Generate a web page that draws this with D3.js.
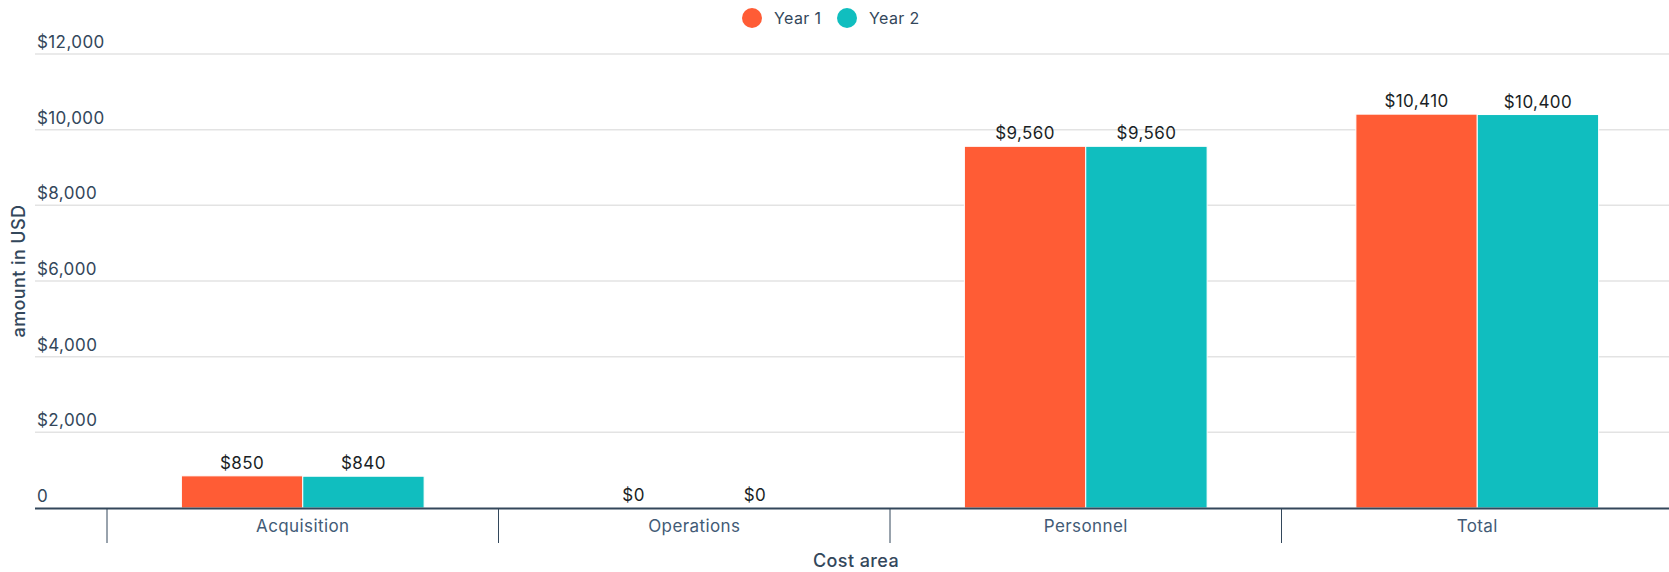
<!DOCTYPE html>
<html>
<head>
<meta charset="utf-8">
<script src="https://cdn.jsdelivr.net/npm/d3@7"></script>
<style>
  html, body { margin: 0; padding: 0; background: #fff; }
  svg { display: block; font-family: Inter, "Noto Sans", sans-serif; letter-spacing: 0.4px; }
</style>
</head>
<body>
<svg id="chart" width="1669" height="572"></svg>
<script>
// Cost areas and yearly amounts (USD)
const categories = ["Acquisition", "Operations", "Personnel", "Total"];
const seriesNames = ["Year 1", "Year 2"];
const year1 = [850, 0, 9560, 10410];
const year2 = [840, 0, 9560, 10400];
const yTicks = [0, 2000, 4000, 6000, 8000, 10000, 12000];
const colors = ["#ff5c35", "#10bebf"];

const svg = d3.select("#chart");

const plotLeft = 35, plotRight = 1669, plotTop = 54, plotBottom = 508;

const x = d3.scaleBand().domain(categories).range([107, 1673]).paddingInner(0).paddingOuter(0);
const groupPad = 0.19;
const x1 = d3.scaleBand().domain(seriesNames)
  .range([x.bandwidth() * groupPad, x.bandwidth() * (1 - groupPad)]);
const y = d3.scaleLinear().domain([0, 12000]).range([plotBottom, plotTop]);

const fmtMoney = d => "$" + d3.format(",")(d);

// Horizontal gridlines
svg.append("g").selectAll("line").data(yTicks.filter(d => d > 0)).join("line")
  .attr("x1", plotLeft).attr("x2", plotRight)
  .attr("y1", d => y(d)).attr("y2", d => y(d))
  .attr("stroke", "#e3e3e3").attr("stroke-width", 1.5);

// Y tick labels, sitting above each gridline
svg.append("g").selectAll("text").data(yTicks).join("text")
  .attr("x", 37).attr("y", d => y(d) - 6)
  .attr("font-size", 17).attr("fill", "#33475b")
  .text(d => d === 0 ? "0" : fmtMoney(d));

// Bars
const rows = categories.map((c, i) => ({ cat: c, values: [year1[i], year2[i]] }));
const groups = svg.append("g").selectAll("g").data(rows).join("g")
  .attr("transform", d => `translate(${x(d.cat)},0)`);

groups.selectAll("rect").data(d => d.values.map((v, j) => ({ v, s: seriesNames[j], j })))
  .join("rect")
  .attr("x", d => x1(d.s))
  .attr("width", x1.bandwidth())
  .attr("y", d => y(d.v))
  .attr("height", d => y(0) - y(d.v))
  .attr("fill", d => colors[d.j])
  .attr("stroke", "#fff").attr("stroke-width", 1);

// Value labels above bars
groups.selectAll("text").data(d => d.values.map((v, j) => ({ v, s: seriesNames[j] })))
  .join("text")
  .attr("x", d => x1(d.s) + x1.bandwidth() / 2)
  .attr("y", d => y(d.v) - 7)
  .attr("text-anchor", "middle")
  .attr("font-size", 17).attr("fill", "#1a1f26")
  .text(d => fmtMoney(d.v));

// X axis line and category ticks
svg.append("line")
  .attr("x1", plotLeft).attr("x2", plotRight)
  .attr("y1", y(0) + 0.5).attr("y2", y(0) + 0.5)
  .attr("stroke", "#33475b").attr("stroke-width", 2);

const tickPos = categories.map(c => x(c)).concat([x(categories[categories.length - 1]) + x.bandwidth()]);
svg.append("g").selectAll("line").data(tickPos).join("line")
  .attr("x1", d => d).attr("x2", d => d)
  .attr("y1", y(0)).attr("y2", y(0) + 35)
  .attr("stroke", "#33475b").attr("stroke-width", 1);

svg.append("g").selectAll("text").data(categories).join("text")
  .attr("x", d => x(d) + x.bandwidth() / 2)
  .attr("y", y(0) + 24)
  .attr("text-anchor", "middle")
  .attr("font-size", 17).attr("fill", "#425b76")
  .text(d => d);

// Axis titles
svg.append("text")
  .attr("x", (plotLeft + plotRight) / 2 + 4).attr("y", 567)
  .attr("text-anchor", "middle")
  .attr("font-size", 18).attr("font-weight", 500).attr("fill", "#33475b")
  .text("Cost area");

svg.append("text")
  .attr("transform", `translate(25,${(plotTop + plotBottom) / 2 - 10}) rotate(-90)`)
  .attr("text-anchor", "middle")
  .attr("font-size", 18).attr("font-weight", 500).attr("fill", "#33475b")
  .text("amount in USD");

// Legend
const legend = svg.append("g");
const legendX = [752, 847];
seriesNames.forEach((name, i) => {
  legend.append("circle").attr("cx", legendX[i]).attr("cy", 18).attr("r", 10).attr("fill", colors[i]);
  legend.append("text").attr("x", legendX[i] + 22).attr("y", 24)
    .attr("font-size", 16).attr("fill", "#33475b").text(name);
});
</script>
</body>
</html>
